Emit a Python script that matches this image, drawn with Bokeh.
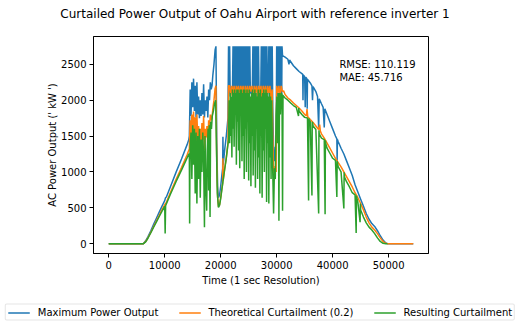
from bokeh.plotting import figure
from bokeh.layouts import column
from bokeh.models import Range1d, Legend, LegendItem, Label, FixedTicker
from bokeh.embed import file_html
from bokeh.resources import INLINE

# ---------------- data ----------------
title_text = "Curtailed Power Output of Oahu Airport with reference inverter 1"
series_names = ["Maximum Power Output", "Theoretical Curtailment (0.2)", "Resulting Curtailment"]
series_colors = ["#1f77b4", "#ff7f0e", "#2ca02c"]
x_ticks = [0, 10000, 20000, 30000, 40000, 50000]
y_ticks = [0, 500, 1000, 1500, 2000, 2500]
rmse_text = "RMSE: 110.119"
mae_text = "MAE: 45.716"

# Maximum power output (kW)
blue_t = [0, 6200, 6600, 7000, 7500, 8000, 8500, 9000, 9500, 10000, 10150, 10300, 11000, 12000, 13000, 14000, 14300,
          14400, 14550, 14700, 14850, 15000, 15150, 15300, 15450, 15600, 15750, 15900, 16050, 16200, 16350, 16500,
          16650, 16800, 16950, 17100, 17250, 17400, 17550, 17700, 17850, 18000, 18150, 18300, 18450, 18600, 18800,
          19000, 19150,
          19300, 19450, 19600, 19800, 20000, 20200, 20350, 20400, 20450, 20700, 21000, 21300,
          21400, 21500, 21600, 21700, 21800, 22100, 22200, 22300, 22400, 22500, 22600, 22700, 22800, 22900, 23000,
          23100, 23200, 23300, 23400, 23500, 23600, 23700, 23800, 23900, 24000, 24100, 24200, 24300, 24400, 24500,
          24600, 24700, 24800, 24900, 25000, 25100, 25200, 25300, 25450, 25650, 25750, 25850, 25950, 26050, 26150,
          26250, 26350, 26450, 26550, 26650, 26750, 26850, 26950, 27150, 27250, 27350, 27450, 27550, 27650, 27750,
          27850, 27950, 28050, 28150, 28250, 28350, 28500, 28600, 28700, 28800, 28900, 29000, 29100, 29200, 29300,
          29450, 29600, 29750, 29900, 30000, 30100, 30200, 30300, 30400, 30500, 30600, 30700, 30800, 30900, 30950,
          31050, 31500, 32000, 32200, 32300, 33000, 33500, 34000, 34500, 34650, 34700, 34750, 35000, 35100, 35200,
          35400, 35450, 35500, 35600, 36000, 36300, 36400, 36500, 37000, 37300, 37500, 37600, 38000, 38300, 38500,
          38600, 39000, 39500, 40000, 40500, 40750, 40800, 40850, 41000, 41500, 42000, 42500, 43000, 43500, 44000,
          44500, 45000, 45500, 46000, 46500, 47000, 47500, 48000, 48500, 49000, 49500, 49800, 54400]
blue_p = [0, 0, 40, 95, 175, 265, 350, 435, 520, 600, 640, 650, 790, 990, 1180, 1380, 1450,
          1500, 2150, 1780, 2250, 1900, 2300, 1850, 2200, 1760, 2250, 1800, 2050, 1750, 2000, 1780,
          2100, 1800, 2220, 1760, 2000, 1850, 2050, 1760, 2150, 2000, 2250, 2150, 2200, 2350, 2500,
          2700, 2750,
          1400, 800, 640, 680, 800, 950, 1050, 1490, 1100, 1300, 1500, 1750,
          2750, 2100, 2750, 2050, 2150, 2100, 2750, 2000, 2750, 2150, 2750, 1950, 2750, 2100, 2750,
          2000, 2750, 2150, 2750, 1950, 2750, 2100, 2750, 2000, 2750, 2150, 2750, 1950, 2750, 2100,
          2750, 2000, 2750, 2150, 2750, 1950, 2750, 2100, 2100, 2150, 2750, 2000, 2750, 2100, 2750,
          1950, 2750, 2150, 2750, 2000, 2750, 2100, 2150, 2100, 2750, 2000, 2750, 2150, 2750, 1950,
          2750, 2100, 2750, 2000, 2750, 2150, 2100, 2750, 1950, 2750, 2100, 2750, 2000, 2750, 1900,
          1300, 1150, 1350, 1250, 2750, 2050, 2750, 2150, 2750, 1950, 2750, 2100, 2750, 2000, 2750,
          2620, 2600, 2570, 2500, 2560, 2480, 2440, 2400, 2370, 2360, 2000, 2350, 2330, 1900, 2320,
          2300, 1880, 2290, 2280, 2240, 2200, 2000, 2190, 2120, 2050, 1620, 2020, 1950, 1900, 1620,
          1880, 1800, 1700, 1600, 1500, 1460, 1150, 1450, 1420, 1330, 1250, 1150, 1050, 950, 820,
          720, 620, 520, 420, 340, 280, 240, 180, 110, 50, 10, 0, 0]

# Theoretical curtailment (kW)
orange_t = [0, 6200, 6600, 7000, 7500, 8000, 8500, 9000, 9500, 10000, 10150, 10300, 11000, 12000, 13000, 14000, 14300,
            14400, 14550, 14700, 14850, 15000, 15150, 15300, 15450, 15600, 15750, 15900, 16050, 16200, 16350, 16500,
            16650, 16800, 16950, 17100, 17250, 17400, 17550, 17700, 17850, 18000, 18150, 18300, 18450, 18600, 18800,
            19000, 19150,
            19300, 19450, 19600, 19800, 20000, 20200, 20350, 20400, 20450, 20700, 21000, 21300,
            21400, 21600, 21800, 22000, 22200, 22400, 22600, 22800, 23000, 23200, 23400, 23600, 23800, 24000, 24200,
            24400, 24600, 24800, 25000, 25200, 25400, 25600, 25800, 26000, 26200, 26400, 26600, 26800, 27000, 27200,
            27400, 27600, 27800, 28000, 28200, 28400, 28600, 28800, 29000, 29200, 29300, 29450, 29600, 29750, 29900,
            30000, 30200, 30400, 30600, 30800, 30950, 31050, 31240, 31500, 32000, 32500, 33000, 33500, 34000, 34500,
            35000, 35300, 35420, 35550, 36000, 36500, 37000, 37500, 37680, 37800, 38000, 38500, 39000, 39500, 40000,
            40500, 41000, 41500, 42000, 42500, 43000, 43500, 44000, 44500, 45000, 45500, 46000, 46500, 47000, 47500,
            48000, 48500, 49000, 49500, 49800, 54400]
orange_p = [0, 0, 30, 80, 155, 235, 315, 390, 470, 540, 560, 575, 710, 890, 1060, 1240, 1300,
            1320, 1720, 1450, 1800, 1520, 1840, 1480, 1760, 1400, 1800, 1450, 1640, 1350, 1600, 1400,
            1680, 1450, 1780, 1300, 1600, 1480, 1640, 1380, 1720, 1600, 1800, 1720, 1760, 1880, 2000,
            2160, 2200,
            1150, 650, 515, 545, 640, 760, 840, 1190, 880, 1040, 1200, 1400,
            2200, 2200, 2060, 2200, 2100, 2200, 2040, 2200, 2120, 2200, 2050, 2200, 2100, 2200, 2000,
            2200, 2080, 2200, 2050, 2200, 2120, 2200, 2000, 2200, 2100, 2200, 2050, 2200, 2100, 2200,
            2000, 2200, 2080, 2200, 2050, 2200, 2100, 2200, 2000, 2150, 1500, 1040, 920, 1080, 1000,
            2200, 2100, 2200, 2050, 2200, 2150, 2120, 2130, 2080, 2030, 2000, 1960, 1925, 1890, 1850,
            1800, 1780, 1875, 1770, 1730, 1690, 1640, 1590, 1660, 1570, 1530, 1470, 1400, 1330, 1260,
            1190, 1130, 1070, 1000, 930, 860, 790, 710, 640, 560, 470, 370, 290, 230, 190,
            140, 80, 30, 5, 0, 0]

# Resulting curtailment (kW)
green_t = [0, 6200, 6600, 7000, 7500, 8000, 8500, 9000, 9500, 10000, 10080, 10160, 11000, 12000, 13000, 14000, 14300,
           14400, 14450, 14520, 14700, 14850, 15000, 15150, 15300, 15450, 15600, 15750, 15900, 16050, 16200, 16350,
           16500, 16650, 16800, 16950, 17100, 17200, 17350, 17500, 17600, 17750, 17850, 17950, 18100, 18200, 18350,
           18500, 18700, 18900, 19100,
           19250, 19400, 19600, 19800, 20000, 20200, 20400, 20700, 21000, 21300, 21400,
           21500, 21600, 21700, 21800, 21900, 22000, 22100, 22200, 22300, 22400, 22500, 22600, 22700, 22800, 22900,
           23000, 23100, 23200, 23300, 23400, 23500, 23600, 23700, 23800, 23900, 24000, 24100, 24200, 24300, 24400,
           24500, 24600, 24700, 24800, 24900, 25000, 25100, 25200, 25300, 25400, 25500, 25600, 25700, 25800, 25900,
           26000, 26100, 26200, 26300, 26400, 26500, 26600, 26700, 26800, 26900, 27000, 27100, 27200, 27300, 27400,
           27500, 27600, 27700, 27800, 27900, 28000, 28100, 28200, 28300, 28400, 28500, 28600, 28700, 28800, 28900,
           29000, 29100, 29200, 29300, 29450, 29600, 29750, 29900, 30050, 30150, 30300, 30400, 30500, 30650, 30800,
           30950, 31050, 31130, 31200, 31500, 32000, 32500, 33000, 33500, 33900, 33950, 34000, 34500, 35000, 35500,
           35700, 35750, 35800, 36000, 36300, 36350, 36400, 36500, 37000, 37500, 37550, 37600, 38000, 38500, 38650,
           38700, 38750, 39000, 39500, 40000, 40500, 40750, 40800, 40850, 41000, 41500, 42000, 42050, 42100, 42500,
           43000, 43500, 44000, 44200, 44250, 44300, 44500, 44900, 44950, 45000, 45500, 46000, 46500, 47000, 47500,
           48000, 48500, 49000, 49500, 49800, 54400]
green_p = [0, 0, 25, 75, 148, 225, 300, 375, 450, 520, 140, 530, 685, 860, 1025, 1195, 1250,
           1250, 280, 1300, 1550, 900, 1650, 1100, 1600, 700, 1550, 560, 1500, 900, 1600, 640,
           1450, 1000, 1550, 1200, 230, 1500, 800, 460, 1300, 1600, 740, 1650, 370, 1700, 1600,
           1780, 1850, 1950, 2000,
           1300, 700, 505, 535, 630, 750, 860, 1030, 1190, 1390, 1450,
           2000, 1400, 2100, 1500, 2050, 1200, 2150, 1600, 2100, 1350, 2150, 1800, 2100, 1100, 2150,
           1700, 2150, 1300, 2100, 1050, 2150, 1800, 2150, 1150, 2100, 1500, 2150, 900, 2150, 1600,
           2100, 1000, 2150, 1700, 2100, 880, 2150, 1400, 2050, 800, 2100, 1500, 2150, 950, 2100,
           1300, 2150, 780, 2100, 1600, 2050, 900, 2150, 1200, 2100, 700, 2150, 1500, 2050, 640,
           2100, 1300, 2150, 1000, 2100, 1600, 2150, 580, 2100, 1400, 2050, 560, 2100, 1200, 2050,
           900, 2000, 1500, 1000, 420, 1050, 900, 1800, 2050, 1400, 2100, 320, 2100, 1800, 2100,
           2080, 460, 2070, 2060, 2030, 2000, 1960, 1925, 1900, 1780, 1890, 1850, 1800, 1760, 1750,
           600, 1745, 1730, 1700, 670, 1695, 1690, 1640, 1590, 420, 1580, 1530, 1470, 1450, 410,
           1440, 1400, 1330, 1260, 1190, 1160, 650, 1150, 1130, 1070, 1000, 490, 995, 930, 860,
           790, 710, 680, 150, 670, 640, 580, 300, 560, 470, 370, 290, 230, 190, 140,
           80, 30, 5, 0, 0]

FONT = "DejaVu Sans"
series = [(blue_t, blue_p), (orange_t, orange_p), (green_t, green_p)]

# ---------------- title strip ----------------
hd = figure(width=520, height=26, output_backend="svg", toolbar_location=None,
            min_border=0, x_axis_type=None, y_axis_type=None,
            x_range=Range1d(0, 520), y_range=Range1d(0, 26))
hd.frame_align = False
hd.outline_line_color = None
hd.background_fill_color = "white"
hd.border_fill_color = "white"
hd.add_layout(Label(x=254.5, y=13, text=title_text, text_font=FONT, text_font_size="12px",
                    text_align="center", text_baseline="middle", text_color="black"))

# ---------------- main figure ----------------
p = figure(width=520, height=274, output_backend="svg", toolbar_location=None,
           x_range=Range1d(-2720, 57120), y_range=Range1d(-137.5, 2887.5),
           min_border_left=93, min_border_right=92, min_border_top=10, min_border_bottom=47)
p.frame_align = False
p.background_fill_color = "white"
p.border_fill_color = "white"
p.outline_line_color = "black"
p.outline_line_width = 1
p.xgrid.visible = False
p.ygrid.visible = False

for (tt, pp), c in zip(series, series_colors):
    p.line(tt, pp, line_color=c, line_width=1.5)

for ax, ticks in ((p.xaxis, x_ticks), (p.yaxis, y_ticks)):
    ax.ticker = FixedTicker(ticks=ticks)
    ax.minor_tick_line_color = None
    ax.major_tick_in = 0
    ax.major_tick_out = 4
    ax.major_tick_line_color = "black"
    ax.axis_line_color = "black"
    ax.major_label_text_font = FONT
    ax.major_label_text_font_size = "10px"
    ax.major_label_text_color = "black"
    ax.major_label_standoff = 3
    ax.axis_label_text_font = FONT
    ax.axis_label_text_font_size = "10px"
    ax.axis_label_text_font_style = "normal"
    ax.axis_label_text_color = "black"
p.xaxis.axis_label = "Time (1 sec Resolution)"
p.yaxis.axis_label = "AC Power Output (' kW ')"
p.xaxis.axis_label_standoff = 3
p.yaxis.axis_label_standoff = 0
p.xaxis.formatter.use_scientific = False
p.yaxis.formatter.use_scientific = False

for txt, yv in ((rmse_text, 2500), (mae_text, 2314)):
    p.add_layout(Label(x=41200, y=yv, text=txt, text_font=FONT, text_font_size="10px",
                       text_baseline="alphabetic", text_align="left", text_color="black"))

# ---------------- legend strip below the chart ----------------
# the same series are drawn here only as legend keys; the view range keeps them out of sight
lg = figure(width=520, height=24, output_backend="svg", toolbar_location=None,
            min_border=0, x_axis_type=None, y_axis_type=None,
            x_range=Range1d(0, 1), y_range=Range1d(-20, -10))
lg.frame_align = False
lg.outline_line_color = None
lg.background_fill_color = "white"
lg.border_fill_color = "white"
keys = [lg.line(tt, pp, line_color=c, line_width=1.5) for (tt, pp), c in zip(series, series_colors)]

legend = Legend(items=[LegendItem(label=n, renderers=[r]) for n, r in zip(series_names, keys)],
                orientation="horizontal", location="center",
                label_text_font=FONT, label_text_font_size="10px", label_text_color="black",
                glyph_width=22, glyph_height=10, label_height=10, label_standoff=8, spacing=20,
                padding=2, margin=0, border_line_color="#cccccc", border_line_width=1,
                border_radius=2, background_fill_color="white", background_fill_alpha=0.8)
lg.add_layout(legend, "center")

page = column(hd, p, lg, spacing=0)
open("out.html", "w").write(file_html(page, INLINE))
